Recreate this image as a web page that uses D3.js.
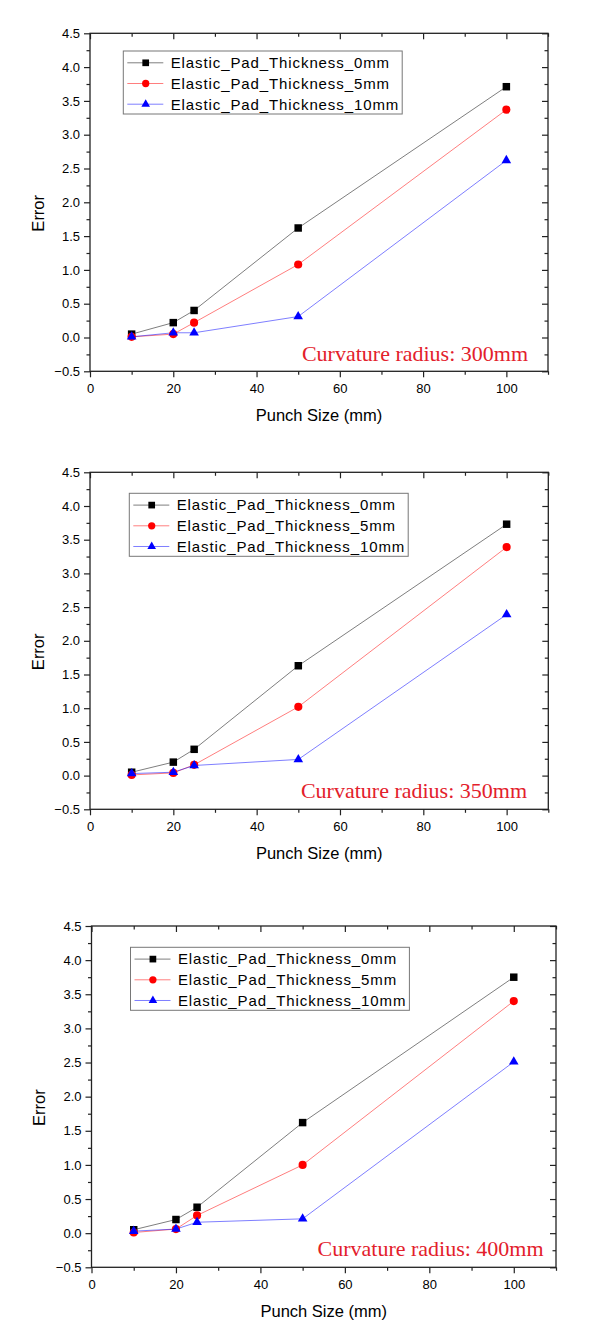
<!DOCTYPE html>
<html><head><meta charset="utf-8">
<script src="https://cdn.jsdelivr.net/npm/d3@7"></script>
<style>body{margin:0;background:#fff} svg{display:block}</style>
</head><body><svg id="c" width="605" height="1329"></svg>
<script>
// ---------- data ----------
const punchSizes = [10, 20, 25, 50, 100];
const seriesNames = ["Elastic_Pad_Thickness_0mm", "Elastic_Pad_Thickness_5mm", "Elastic_Pad_Thickness_10mm"];
const radiusLabels = ["Curvature radius: 300mm", "Curvature radius: 350mm", "Curvature radius: 400mm"];
const r300_pad0  = [0.05, 0.22, 0.40, 1.62, 3.71];
const r300_pad5  = [0.01, 0.05, 0.22, 1.08, 3.37];
const r300_pad10 = [0.01, 0.07, 0.07, 0.31, 2.62];
const r350_pad0  = [0.05, 0.20, 0.39, 1.63, 3.73];
const r350_pad5  = [0.01, 0.04, 0.16, 1.02, 3.39];
const r350_pad10 = [0.03, 0.05, 0.15, 0.24, 2.39];
const r400_pad0  = [0.05, 0.20, 0.38, 1.62, 3.75];
const r400_pad5  = [0.01, 0.06, 0.26, 1.00, 3.40];
const r400_pad10 = [0.03, 0.06, 0.16, 0.21, 2.51];
const xMajorTicks = [0, 20, 40, 60, 80, 100];
const xMinorTicks = [10, 30, 50, 70, 90, 110];
const yMajorTicks = [-0.5, 0.0, 0.5, 1.0, 1.5, 2.0, 2.5, 3.0, 3.5, 4.0, 4.5];
const yMinorTicks = [-0.25, 0.25, 0.75, 1.25, 1.75, 2.25, 2.75, 3.25, 3.75, 4.25];
const xLabel = "Punch Size (mm)";
const yLabel = "Error";

// ---------- styles / layout ----------
const colors = ["#000000", "#ff0000", "#0000ff"];
const shapes = [d3.symbolSquare, d3.symbolCircle, d3.symbolTriangle];
const shapeSizes = [56, 52, 40];
const panelData = [
  [r300_pad0, r300_pad5, r300_pad10],
  [r350_pad0, r350_pad5, r350_pad10],
  [r400_pad0, r400_pad5, r400_pad10]
];
const layout = [
  {left: 90,   right: 548,   top: 33.3,  bottom: 371.3,  legX: 123.3, legY: 51,    noteX: 528,   noteY: 360.5},
  {left: 90,   right: 548.3, top: 472.3, bottom: 809.3,  legX: 129.3, legY: 493.3, noteX: 527,   noteY: 797.7},
  {left: 91.5, right: 556,   top: 926,   bottom: 1267.3, legX: 130.5, legY: 947.3, noteX: 543.6, noteY: 1255.5}
];
const sans = "'Liberation Sans', Arial, sans-serif";
const serif = "'Liberation Serif', 'Times New Roman', serif";

const svg = d3.select("#c");

layout.forEach((L, pi) => {
  const g = svg.append("g");
  const x = d3.scaleLinear().domain([0, 110]).range([L.left, L.right]);
  const y = d3.scaleLinear().domain([-0.5, 4.5]).range([L.bottom, L.top]);

  const styleAxis = sel => {
    sel.select(".domain").remove();
    sel.selectAll(".tick line").attr("stroke", "#222").attr("stroke-width", 1.2);
    sel.selectAll("text").attr("font-family", sans).attr("font-size", 13).attr("fill", "#000");
  };

  // bottom axis (outward ticks, labels)
  g.append("g").attr("transform", `translate(0,${L.bottom})`)
    .call(d3.axisBottom(x).tickValues(xMajorTicks).tickSize(6).tickPadding(6).tickFormat(d3.format("d")))
    .call(styleAxis);
  g.append("g").attr("transform", `translate(0,${L.bottom})`)
    .call(d3.axisBottom(x).tickValues(xMinorTicks).tickSize(3.5).tickFormat(""))
    .call(styleAxis);
  // top axis (inward ticks)
  g.append("g").attr("transform", `translate(0,${L.top})`)
    .call(d3.axisBottom(x).tickValues(xMajorTicks).tickSize(6).tickFormat(""))
    .call(styleAxis);
  g.append("g").attr("transform", `translate(0,${L.top})`)
    .call(d3.axisBottom(x).tickValues(xMinorTicks).tickSize(3.5).tickFormat(""))
    .call(styleAxis);
  // left axis (outward ticks, labels)
  g.append("g").attr("transform", `translate(${L.left},0)`)
    .call(d3.axisLeft(y).tickValues(yMajorTicks).tickSize(6).tickPadding(4).tickFormat(d3.format(".1f")))
    .call(styleAxis);
  g.append("g").attr("transform", `translate(${L.left},0)`)
    .call(d3.axisLeft(y).tickValues(yMinorTicks).tickSize(3.5).tickFormat(""))
    .call(styleAxis);
  // right axis (inward ticks)
  g.append("g").attr("transform", `translate(${L.right},0)`)
    .call(d3.axisLeft(y).tickValues(yMajorTicks).tickSize(6).tickFormat(""))
    .call(styleAxis);
  g.append("g").attr("transform", `translate(${L.right},0)`)
    .call(d3.axisLeft(y).tickValues(yMinorTicks).tickSize(3.5).tickFormat(""))
    .call(styleAxis);

  // frame
  g.append("rect")
    .attr("x", L.left).attr("y", L.top)
    .attr("width", L.right - L.left).attr("height", L.bottom - L.top)
    .attr("fill", "none").attr("stroke", "#222").attr("stroke-width", 1.3);

  // axis titles
  g.append("text")
    .attr("x", (L.left + L.right) / 2).attr("y", L.bottom + 50)
    .attr("text-anchor", "middle").attr("font-family", sans).attr("font-size", 16.5)
    .text(xLabel);
  g.append("text")
    .attr("transform", `translate(${L.left - 46.5},${(L.top + L.bottom) / 2 + 11}) rotate(-90)`)
    .attr("text-anchor", "middle").attr("font-family", sans).attr("font-size", 16.5)
    .text(yLabel);

  // series
  const line = d3.line().x((d, i) => x(punchSizes[i])).y(d => y(d));
  panelData[pi].forEach((vals, si) => {
    g.append("path").datum(vals)
      .attr("d", line).attr("fill", "none")
      .attr("stroke", colors[si]).attr("stroke-width", 0.6).attr("stroke-opacity", 0.85);
  });
  panelData[pi].forEach((vals, si) => {
    g.selectAll(null).data(vals).enter().append("path")
      .attr("transform", (d, i) => `translate(${x(punchSizes[i])},${y(d)})`)
      .attr("d", d3.symbol().type(shapes[si]).size(shapeSizes[si]))
      .attr("fill", colors[si]);
  });

  // legend
  const leg = g.append("g").attr("transform", `translate(${L.legX},${L.legY})`);
  const rowY = [11.8, 32.5, 53.2];
  let maxW = 0;
  seriesNames.forEach((name, si) => {
    leg.append("line").attr("x1", 4).attr("x2", 40).attr("y1", rowY[si]).attr("y2", rowY[si])
      .attr("stroke", colors[si]).attr("stroke-width", 0.6).attr("stroke-opacity", 0.85);
    leg.append("path").attr("transform", `translate(22.4,${rowY[si]})`)
      .attr("d", d3.symbol().type(shapes[si]).size(shapeSizes[si] * 0.8)).attr("fill", colors[si]);
    const t = leg.append("text").attr("x", 47.4).attr("y", rowY[si] + 5.3)
      .attr("font-family", sans).attr("font-size", 15).attr("letter-spacing", 0.9)
      .text(name);
    maxW = Math.max(maxW, t.node().getComputedTextLength());
  });
  leg.insert("rect", ":first-child")
    .attr("x", 0).attr("y", 0).attr("width", 47.4 + maxW + 3).attr("height", 63)
    .attr("fill", "#fff").attr("stroke", "#777").attr("stroke-width", 1);

  // annotation
  g.append("text")
    .attr("x", L.noteX).attr("y", L.noteY)
    .attr("text-anchor", "end").attr("font-family", serif).attr("font-size", 22)
    .attr("fill", "#e3202b")
    .text(radiusLabels[pi]);
});
</script>
</body></html>
